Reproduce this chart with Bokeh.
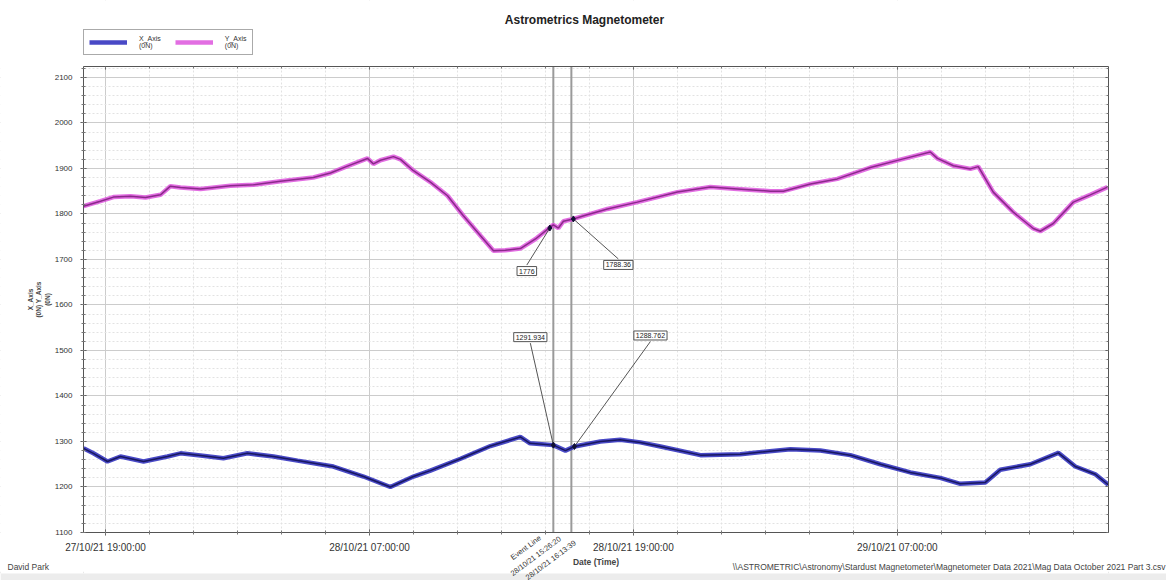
from bokeh.plotting import figure
from bokeh.models import (Range1d, LinearAxis, FixedTicker, Label, Legend, LegendItem,
                          ColumnDataSource, BoxAnnotation)
from bokeh.embed import file_html
from bokeh.resources import INLINE

# ---- data (hours since 27/10/21 18:00:00) ----
y_hours = [0, 0.77, 1.36, 2.14, 2.82, 3.5, 3.95, 4.41, 5.32, 6.68, 7.73, 8.95, 10.45, 11.23,
           12.0, 12.91, 13.18, 13.5, 14.09, 14.41, 15.0, 15.77, 16.55, 17.27, 18.05, 18.64,
           19.18, 19.86, 20.55, 21.09, 21.36, 21.59, 21.82, 22.27, 22.82, 23.82, 25.18, 27.0,
           28.5, 29.73, 31.23, 31.82, 33.05, 34.27, 35.77, 37.27, 38.5, 38.82, 39.55, 40.32,
           40.68, 41.36, 42.27, 43.18, 43.5, 44.09, 45.0, 45.77, 46.55]
y_axis_nt = [1817, 1828, 1837, 1839, 1836, 1842, 1861, 1858, 1855, 1862, 1864, 1872, 1880, 1890,
             1905, 1922, 1910, 1918, 1926, 1920, 1895, 1870, 1840, 1796, 1752, 1719,
             1720, 1724, 1745, 1766, 1776, 1769, 1784, 1789, 1797, 1811, 1826, 1848,
             1859, 1855, 1850, 1850, 1866, 1877, 1902, 1921, 1936, 1922, 1906, 1899,
             1904, 1848, 1804, 1768, 1762, 1779, 1826, 1842, 1859]

x_hours = [0, 0.45, 1.09, 1.68, 2.73, 3.82, 4.41, 5.32, 6.36, 7.45, 8.64, 9.73, 11.36, 12.73,
           13.95, 15.0, 15.77, 17.14, 18.5, 19.86, 20.3, 21.36, 21.91, 22.32, 23.5, 24.4,
           25.32, 26.23, 28.05, 29.86, 32.14, 33.5, 34.86, 36.23, 37.59, 38.95, 39.86, 41.0,
           41.68, 43.05, 44.32, 45.09, 46.0, 46.59]
x_axis_nt = [1285, 1274, 1256, 1267, 1256, 1267, 1274, 1269, 1263, 1274, 1267, 1258, 1245, 1223,
             1200, 1223, 1236, 1262, 1290, 1310, 1296, 1292, 1280, 1289, 1300, 1304,
             1298, 1289, 1270, 1272, 1283, 1280, 1270, 1250, 1232, 1220, 1207, 1210,
             1238, 1250, 1275, 1245, 1228, 1205]

tick_hours = [1, 13, 25, 37]
tick_labels = ["27/10/21 19:00:00", "28/10/21 07:00:00", "28/10/21 19:00:00", "29/10/21 07:00:00"]
y_ticks = list(range(1100, 2101, 100))
x_minor = list(range(1, 47, 2))
y_minor = list(range(1100, 2125, 20))

event_hours = [21.36, 22.18]
event_text_lines = ["Event Line", "28/10/21 15:26:20", "28/10/21 16:13:39"]
marker_hours = [21.2, 22.27, 21.36, 22.32]
marker_values = [1769, 1789, 1292, 1289]
marker_texts = ["1776", "1788.36", "1291.934", "1288.762"]

FONT = "Liberation Sans"
W, H = 1166, 580
BL, BR, BT, BB = 83, 1108, 66, 532          # plot box on the canvas (px)
X0, X1 = 0, 46.6
Y0, Y1 = 1100, 2124
pxh = (BR - BL) / (X1 - X0)
pyv = (BB - BT) / (Y1 - Y0)


def hx(px):
    return X0 + (px - BL) / pxh


def vy(py):
    return Y0 + (BB - py) / pyv


p = figure(width=W, height=H, min_border=0, output_backend="svg", toolbar_location=None,
           x_range=Range1d(hx(0), hx(W)), y_range=Range1d(vy(H), vy(0)))
p.outline_line_color = None

# grids
p.xgrid.ticker = FixedTicker(ticks=tick_hours, minor_ticks=x_minor)
p.ygrid.ticker = FixedTicker(ticks=y_ticks, minor_ticks=y_minor)
for g in (p.xgrid, p.ygrid):
    g.grid_line_color = "#cccccc"
    g.grid_line_width = 1
    g.minor_grid_line_color = "#e2e2e2"
    g.minor_grid_line_dash = "2 2"

# white masks so the grid stays inside the plot box
for kw in (dict(right=X0), dict(left=X1), dict(top=Y0, left=X0, right=X1),
           dict(bottom=Y1, left=X0, right=X1)):
    p.add_layout(BoxAnnotation(fill_color="white", fill_alpha=1, line_alpha=0,
                               level="glyph", **kw))


def style_axis(a, labels=True):
    a.axis_line_color = "#555555"
    a.major_tick_line_color = "#555555"
    a.minor_tick_line_color = "#777777"
    a.major_tick_in = 3
    a.major_tick_out = 3
    a.minor_tick_in = 2
    a.minor_tick_out = 2
    a.major_label_text_font = FONT
    a.major_label_text_color = "#333333"
    if not labels:
        a.major_label_text_color = None
        a.major_tick_out = 0
        a.minor_tick_out = 0


xa = p.xaxis[0]
xa.fixed_location = Y0
xa.bounds = (X0, X1)
xa.ticker = FixedTicker(ticks=tick_hours, minor_ticks=x_minor)
xa.major_label_overrides = {h: t for h, t in zip(tick_hours, tick_labels)}
style_axis(xa)
xa.major_label_text_font_size = "10px"
xa.major_label_standoff = 6
xa.axis_label = "Date (Time)"
xa.axis_label_text_font = FONT
xa.axis_label_text_font_size = "8.5px"
xa.axis_label_text_font_style = "bold"
xa.axis_label_standoff = 1

ya = p.yaxis[0]
ya.fixed_location = X0
ya.bounds = (Y0, Y1)
ya.ticker = FixedTicker(ticks=y_ticks, minor_ticks=y_minor)
style_axis(ya)
ya.major_label_text_font_size = "8px"
ya.major_label_standoff = 8
ya.axis_label = "X_Axis\n(0N) Y_Axis\n(0N)"
ya.axis_label_text_font = FONT
ya.axis_label_text_font_size = "6.5px"
ya.axis_label_text_font_style = "bold"
ya.axis_label_standoff = 1

top = LinearAxis(fixed_location=Y1, bounds=(X0, X1),
                 ticker=FixedTicker(ticks=tick_hours, minor_ticks=x_minor))
right = LinearAxis(fixed_location=X1, bounds=(Y0, Y1),
                   ticker=FixedTicker(ticks=y_ticks, minor_ticks=y_minor))
style_axis(top, labels=False)
style_axis(right, labels=False)
p.add_layout(top, "above")
p.add_layout(right, "right")

# event lines
p.segment(x0=event_hours, y0=[Y0] * 2, x1=event_hours, y1=[Y1] * 2,
          line_color="#9a9a9a", line_width=2)

# series
src_y = ColumnDataSource(dict(h=y_hours, v=y_axis_nt))
src_x = ColumnDataSource(dict(h=x_hours, v=x_axis_nt))
ry = p.line("h", "v", source=src_y, line_color="#dd55dd", line_width=4.5, line_alpha=0.85)
p.line("h", "v", source=src_y, line_color="#8a2a8a", line_width=1.5)
rx = p.line("h", "v", source=src_x, line_color="#3535c0", line_width=4.5, line_alpha=0.9)
p.line("h", "v", source=src_x, line_color="#181860", line_width=1.5)

# value annotations: box offset in px (right, down) from the marked point
offsets_px = [(-23, 43), (45, 46), (-23, -108), (76, -111)]
for (dx, dy), h, v, t in zip(offsets_px, marker_hours, marker_values, marker_texts):
    lh, lv = h + dx / pxh, v - dy / pyv
    edge = lv + (6 / pyv if dy > 0 else -6 / pyv)
    p.segment(x0=[h], y0=[v], x1=[lh], y1=[edge], line_color="#555555", line_width=1)
    p.add_layout(Label(x=lh, y=lv, text=t, text_align="center", text_baseline="middle",
                       text_font=FONT, text_font_size="7px", text_color="#222222",
                       border_line_color="#555555", background_fill_color="white",
                       padding=2))
p.scatter(marker_hours, marker_values, marker="diamond", size=6, color="#111133")

# footer strip and separator
p.segment(x0=[hx(0)], y0=[vy(572)], x1=[hx(W)], y1=[vy(572)], line_color="#a0a0a0", line_width=1.5)
p.add_layout(BoxAnnotation(bottom=vy(H), top=vy(573), fill_color="#ececec", fill_alpha=1,
                           line_alpha=0))

# rotated event texts below the axis (right end of each line, px offsets)
ev_anchor = [(event_hours[0], -16, 0), (event_hours[0], 4, 1), (event_hours[1], 1, 5)]
for (h, dx, dy), t in zip(ev_anchor, event_text_lines):
    p.add_layout(Label(x=h + dx / pxh, y=Y0 - (dy + 1) / pyv, text=t, angle=0.64,
                       text_align="right", text_baseline="top", text_font=FONT,
                       text_font_size="7.5px", text_color="#333333"))

# title
p.add_layout(Label(x=hx(584), y=vy(19), text="Astrometrics Magnetometer", text_align="center",
                   text_baseline="middle", text_font=FONT, text_font_size="12px",
                   text_font_style="bold", text_color="#222222"))

# footer texts
p.add_layout(Label(x=hx(7), y=vy(571), text="David Park", text_font=FONT,
                   text_font_size="8.5px", text_color="#444444", text_baseline="bottom"))
p.add_layout(Label(x=hx(W - 1), y=vy(571),
                   text="\\\\ASTROMETRIC\\Astronomy\\Stardust Magnetometer\\Magnetometer Data 2021\\Mag Data October 2021 Part 3.csv",
                   text_font=FONT, text_font_size="8.5px", text_color="#444444",
                   text_align="right", text_baseline="bottom"))

# legend above the plot box
legend = Legend(items=[LegendItem(label="X_Axis\n(0N)", renderers=[rx]),
                       LegendItem(label="Y_Axis\n(0N)", renderers=[ry])],
                orientation="horizontal", location=(BL, H - 55), glyph_width=38,
                glyph_height=14, label_standoff=12, spacing=14, padding=5, margin=0,
                label_text_font=FONT, label_text_font_size="7px", label_text_color="#333333",
                border_line_color="#555555", background_fill_alpha=1.0)
p.add_layout(legend)

open("out.html", "w").write(file_html(p, INLINE))
